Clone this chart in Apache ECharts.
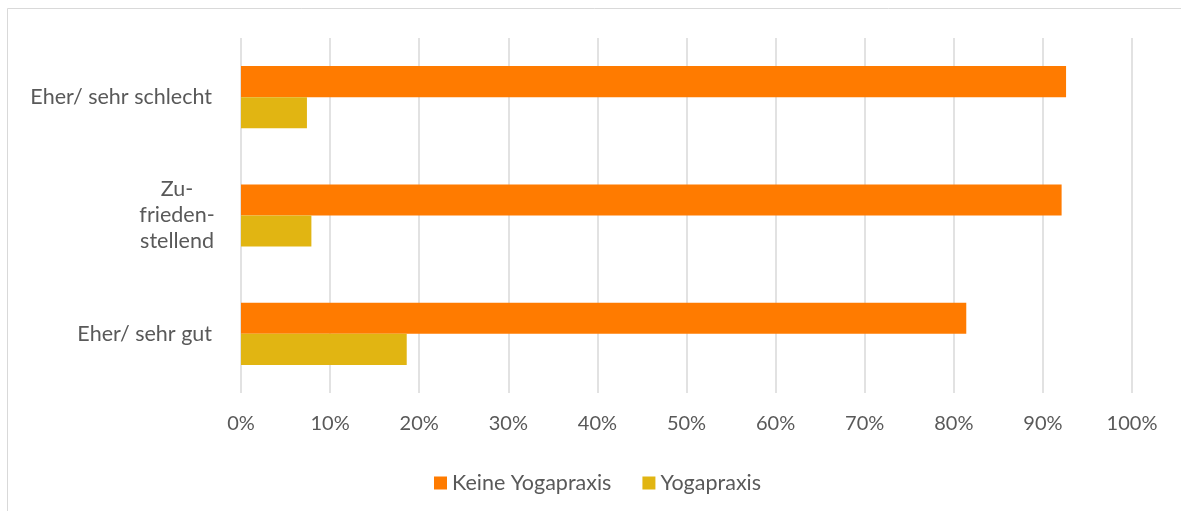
<!DOCTYPE html>
<html>
<head>
<meta charset="utf-8">
<script src="https://cdn.jsdelivr.net/npm/echarts@6/dist/echarts.min.js"></script>
<style>
html,body{margin:0;padding:0;background:#fff;}
#c{width:1181px;height:511px;}
</style>
</head>
<body>
<div id="c"></div>
<script>
const categories = ['Eher/ sehr schlecht', 'Zufriedenstellend', 'Eher/ sehr gut'];
const seriesNames = ['Keine Yogapraxis', 'Yogapraxis'];
const keineYoga = [92.6, 92.1, 81.4];
const yoga = [7.4, 7.9, 18.6];
const tickLabels = ['0%', '10%', '20%', '30%', '40%', '50%', '60%', '70%', '80%', '90%', '100%'];

const FONT = 'Lato';
const TXT = '#595959';
const chart = echarts.init(document.getElementById('c'), null, {renderer: 'canvas'});
chart.setOption({
  animation: false,
  backgroundColor: '#fff',
  graphic: [{
    type: 'rect', silent: true,
    shape: {x: 7.5, y: 8.5, width: 1200, height: 600},
    style: {fill: 'none', stroke: '#d9d9d9', lineWidth: 1}
  }],
  grid: {left: 241, right: 49, top: 38, bottom: 118, containLabel: false},
  legend: {
    data: seriesNames,
    left: 429, top: 467,
    itemWidth: 13, itemHeight: 13, itemGap: 31,
    icon: 'rect',
    textStyle: {color: TXT, fontFamily: FONT, fontSize: 21.5}
  },
  xAxis: {
    type: 'value', min: 0, max: 100, interval: 10,
    axisLine: {show: false}, axisTick: {show: false},
    splitLine: {lineStyle: {color: '#d9d9d9', width: 1.5}},
    axisLabel: {
      color: TXT, fontFamily: FONT, fontSize: 20, margin: 21,
      formatter: function (v) { return tickLabels[Math.round(v / 10)]; }
    }
  },
  yAxis: {
    type: 'category', data: categories, inverse: true,
    axisLine: {show: false}, axisTick: {show: false},
    axisLabel: {
      color: TXT, fontFamily: FONT, fontSize: 21.5, margin: 29,
      formatter: function (v) {
        if (v === 'Zufriedenstellend') return '{c|Zu-}\n{c|frieden-}\n{c|stellend}';
        return v;
      },
      rich: {c: {color: TXT, fontFamily: FONT, fontSize: 21.5, width: 70, align: 'center', lineHeight: 26}}
    }
  },
  series: [
    {name: seriesNames[0], type: 'bar', data: keineYoga, barGap: '0%', barCategoryGap: '47.5%',
     itemStyle: {color: '#FF7B00'}},
    {name: seriesNames[1], type: 'bar', data: yoga, barGap: '0%', barCategoryGap: '47.5%',
     itemStyle: {color: '#E1B512'}}
  ]
});
</script>
</body>
</html>
